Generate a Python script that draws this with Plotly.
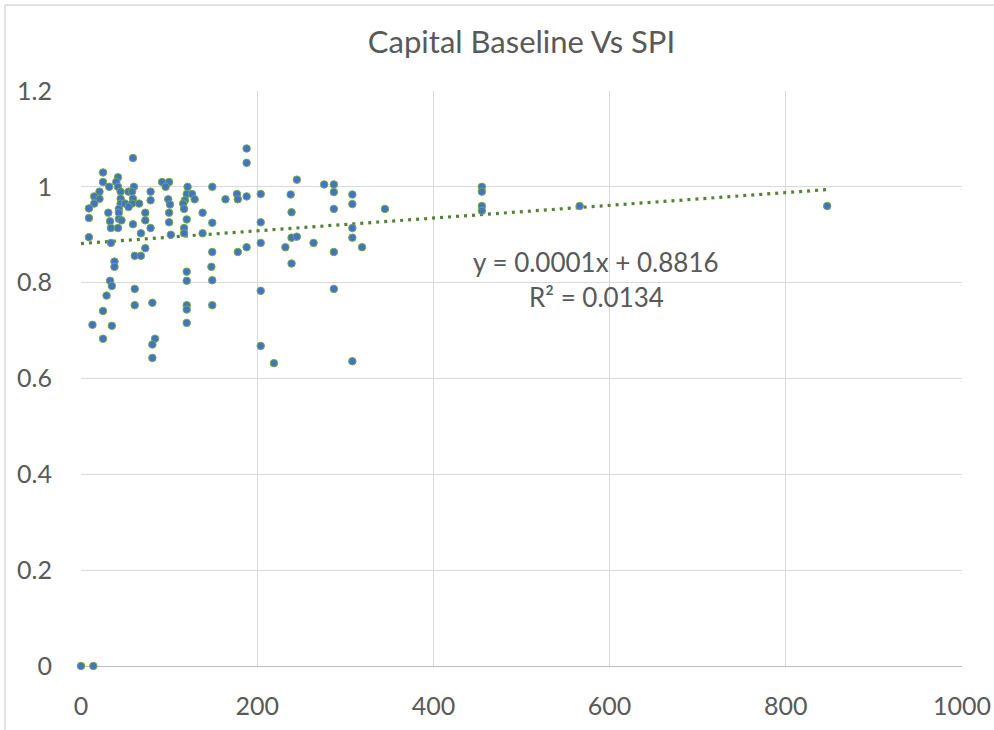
import plotly.graph_objects as go

title_text = "Capital Baseline Vs SPI"

capital_baseline = [
    188, 188, 59, 25, 42, 25, 40, 92, 100, 96, 60, 42, 32, 121, 149,
    45, 54, 58, 21, 15, 79, 120, 126, 177, 188, 204, 21, 15, 9, 9,
    45, 59, 45, 50, 58, 66, 54, 43, 79, 99, 118, 129, 164, 178, 101,
    116, 117, 31, 43, 73, 100, 138, 33, 43, 46, 73, 100, 120, 149, 204,
    34, 42, 59, 79, 117, 102, 117, 138, 9, 34, 68, 73, 204, 188, 178,
    149, 61, 68, 38, 38, 33, 35, 29, 25, 13, 35, 25, 61, 61, 81,
    84, 81, 81, 120, 120, 120, 120, 120, 148, 149, 149, 204, 204, 238, 245,
    276, 287, 287, 308, 308, 287, 239, 345, 308, 308, 239, 245, 232, 264, 287,
    319, 239, 287, 219, 308, 455, 455, 455, 455, 566, 847, 0, 14,
]
spi = [
    1.08, 1.05, 1.06, 1.03, 1.02, 1.01, 1.01, 1.01, 1.01, 1.0, 1.0, 1.0, 1.0, 1.0, 1.0,
    0.99, 0.99, 0.99, 0.99, 0.98, 0.99, 0.985, 0.985, 0.985, 0.98, 0.985, 0.975, 0.965, 0.955, 0.935,
    0.975, 0.975, 0.965, 0.965, 0.965, 0.965, 0.958, 0.954, 0.972, 0.974, 0.972, 0.974, 0.974, 0.974, 0.963,
    0.965, 0.954, 0.946, 0.946, 0.946, 0.946, 0.946, 0.928, 0.933, 0.93, 0.93, 0.926, 0.932, 0.925, 0.926,
    0.914, 0.914, 0.922, 0.914, 0.914, 0.9, 0.903, 0.903, 0.895, 0.883, 0.903, 0.872, 0.883, 0.874, 0.864,
    0.864, 0.856, 0.856, 0.844, 0.833, 0.804, 0.793, 0.773, 0.741, 0.712, 0.71, 0.683, 0.787, 0.753, 0.758,
    0.683, 0.671, 0.643, 0.823, 0.804, 0.753, 0.744, 0.716, 0.833, 0.805, 0.753, 0.783, 0.668, 0.984, 1.015,
    1.005, 1.005, 0.989, 0.984, 0.964, 0.954, 0.947, 0.954, 0.914, 0.894, 0.894, 0.896, 0.874, 0.883, 0.864,
    0.874, 0.84, 0.787, 0.632, 0.636, 1.0, 0.99, 0.96, 0.95, 0.96, 0.96, 0.0, 0.0,
]

trend_slope = 0.000133
trend_intercept = 0.8816
equation_text = "y = 0.0001x + 0.8816"
r2_text = "R² = 0.0134"

x_ticks = [0, 200, 400, 600, 800, 1000]
y_ticks = [0, 0.2, 0.4, 0.6, 0.8, 1.0, 1.2]
y_tick_labels = ["0", "0.2", "0.4", "0.6", "0.8", "1", "1.2"]

FONT = "Lato, 'Open Sans', sans-serif"
TXT = "#595959"
GRID = "#D9D9D9"

x_min, x_max = min(capital_baseline), max(capital_baseline)
trend_x = [x_min, x_max]
trend_y = [trend_intercept + trend_slope * v for v in trend_x]

fig = go.Figure()
fig.add_trace(go.Scatter(
    x=trend_x, y=trend_y, mode="lines",
    line=dict(color="#548235", width=3.2, dash="3px,5px"),
    hoverinfo="skip", showlegend=False,
))
fig.add_trace(go.Scatter(
    x=capital_baseline, y=spi, mode="markers", cliponaxis=False,
    marker=dict(size=7.5, color="#4472C4", line=dict(color="#70AD47", width=1)),
    showlegend=False,
))

L, R, T, B = 81, 32, 91, 64
W, H = 994, 730
pw, ph = W - L - R, H - T - B

fig.update_layout(
    width=W, height=H,
    margin=dict(l=L, r=R, t=T, b=B, autoexpand=False),
    paper_bgcolor="white", plot_bgcolor="white",
    font=dict(family=FONT, color=TXT, size=25),
    title=dict(text=title_text, x=0.5, xref="paper", xanchor="center",
               y=1 - 42 / H, yanchor="middle",
               font=dict(family=FONT, size=31, color=TXT)),
    xaxis=dict(range=[0, 1000], tickvals=x_ticks, ticktext=[str(v) for v in x_ticks],
               showgrid=True, gridcolor=GRID, gridwidth=1, zeroline=False,
               showline=False, ticks="", ticklabelstandoff=23, automargin=False,
               tickfont=dict(family=FONT, size=25, color=TXT)),
    yaxis=dict(range=[0, 1.2], tickvals=y_ticks, ticktext=y_tick_labels,
               showgrid=True, gridcolor=GRID, gridwidth=1,
               zeroline=True, zerolinecolor="#BFBFBF", zerolinewidth=1.3,
               showline=False, ticks="", ticklabelstandoff=28, automargin=False,
               tickfont=dict(family=FONT, size=25, color=TXT)),
    annotations=[
        dict(text=equation_text, x=(596 - L) / pw, y=(H - B - 262) / ph,
             xref="paper", yref="paper", showarrow=False,
             xanchor="center", yanchor="middle",
             font=dict(family=FONT, size=26, color=TXT)),
        dict(text=r2_text, x=(596 - L) / pw, y=(H - B - 297) / ph,
             xref="paper", yref="paper", showarrow=False,
             xanchor="center", yanchor="middle",
             font=dict(family=FONT, size=26, color=TXT)),
    ],
    shapes=[
        dict(type="line", xref="paper", yref="paper",
             x0=(5 - L) / pw, x1=(W - L) / pw,
             y0=(H - B - 5) / ph, y1=(H - B - 5) / ph,
             line=dict(color=GRID, width=1.5)),
        dict(type="line", xref="paper", yref="paper",
             x0=(5 - L) / pw, x1=(5 - L) / pw,
             y0=(H - B - 5) / ph, y1=-B / ph,
             line=dict(color=GRID, width=1.5)),
    ],
)

fig.write_html("out.html", config={"displayModeBar": False},
               post_script="document.body.style.margin='0';")
